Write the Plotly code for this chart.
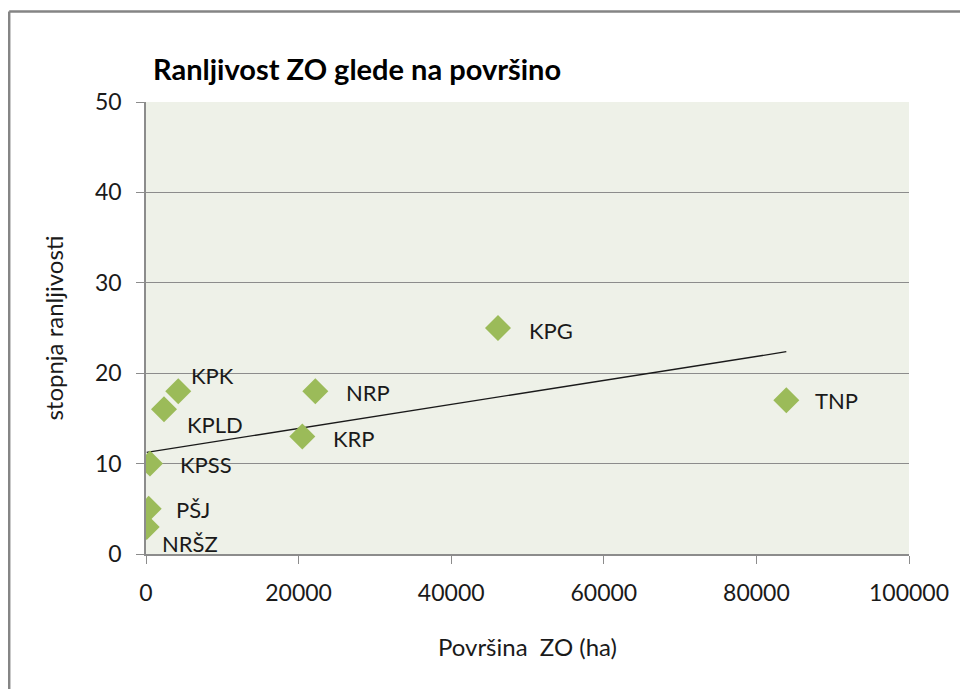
import numpy as np
import plotly.graph_objects as go

# Data
names = ["KPK", "KPLD", "NRP", "KRP", "KPSS", "PŠJ", "NRŠZ", "KPG", "TNP"]
povrsina = [4230, 2360, 22190, 20490, 520, 350, 90, 46130, 83920]
ranljivost = [18, 16, 18, 13, 10, 5, 3, 25, 17]

# label offsets (pixels) relative to each point
label_dx = [11, 21, 29, 29, 28, 25, 13, 29, 27]
label_dy = [16, -15, -1, -2, -1, -1, -17, -2, 0]

x_ticks = [0, 20000, 40000, 60000, 80000, 100000]
y_ticks = [0, 10, 20, 30, 40, 50]

FONT = "Lato"
GREEN = "#9BBB59"
GRID = "#8c8c8c"
TXT = "#1a1a1a"

# linear trendline (least squares) over data range
slope, intercept = np.polyfit(povrsina, ranljivost, 1)
tx = [min(povrsina), max(povrsina)]
ty = [slope * v + intercept for v in tx]

fig = go.Figure()
fig.add_trace(go.Scatter(x=tx, y=ty, mode="lines",
                         line=dict(color=TXT, width=1.3),
                         hoverinfo="skip", showlegend=False))
fig.add_trace(go.Scatter(x=povrsina, y=ranljivost, mode="markers",
                         marker=dict(symbol="diamond", size=20, color=GREEN,
                                     line=dict(width=0)),
                         text=names, showlegend=False))

for n, xv, yv, dx, dy in zip(names, povrsina, ranljivost, label_dx, label_dy):
    fig.add_annotation(x=xv, y=yv, text=n, showarrow=False,
                       xanchor="left", yanchor="middle",
                       xshift=dx, yshift=dy,
                       font=dict(family=FONT, size=22, color=TXT))

# outer chart border (top and left visible)
fig.add_shape(type="line", xref="paper", yref="paper",
              x0=-0.1793, y0=1.2, x1=1.2, y1=1.2,
              line=dict(color="#858585", width=2.5))
fig.add_shape(type="line", xref="paper", yref="paper",
              x0=-0.1793, y0=1.2, x1=-0.1793, y1=-0.4,
              line=dict(color="#858585", width=2.5))

fig.update_layout(
    width=960, height=681,
    margin=dict(l=138, r=59, t=94, b=135),
    paper_bgcolor="white",
    plot_bgcolor="#EEF1E8",
    title=dict(text="<b>Ranljivost ZO glede na površino</b>",
               x=145/960, xanchor="left", y=1-62/681, yanchor="middle",
               font=dict(family=FONT, size=29, color="black")),
    font=dict(family=FONT, color=TXT),
)
fig.update_xaxes(range=[0, 100000], tickvals=x_ticks,
                 ticktext=[str(v) for v in x_ticks],
                 showgrid=False, zeroline=False,
                 showline=True, linecolor=GRID, linewidth=1.5,
                 ticks="outside", ticklen=8, tickcolor=GRID,
                 ticklabelstandoff=10,
                 tickfont=dict(family=FONT, size=23, color=TXT),
                 title=dict(text="Površina  ZO (ha)", standoff=34,
                            font=dict(family=FONT, size=24, color=TXT)))
fig.update_yaxes(range=[0, 50], tickvals=y_ticks,
                 showgrid=True, gridcolor=GRID, gridwidth=1.2,
                 zeroline=False,
                 showline=True, linecolor=GRID, linewidth=1.5,
                 ticks="outside", ticklen=8, tickcolor=GRID,
                 ticklabelstandoff=10,
                 tickfont=dict(family=FONT, size=23, color=TXT),
                 title=dict(text="stopnja ranljivosti", standoff=25,
                            font=dict(family=FONT, size=24, color=TXT)))

fig.write_html("out.html")
